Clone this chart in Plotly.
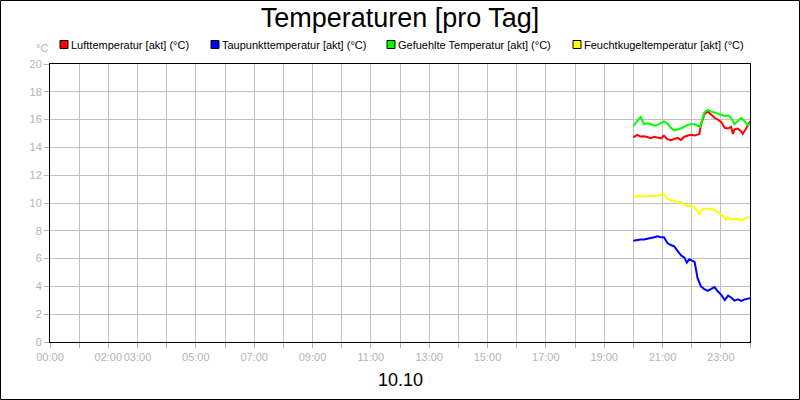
import plotly.graph_objects as go

# Messwerte vom 10.10, 20:00 - 24:00
luft_zeit = ["20:00", "20:08", "20:15", "20:22", "20:29", "20:36", "20:43", "20:50", "20:57", "21:03",
             "21:10", "21:17", "21:24", "21:31", "21:38", "21:45", "21:52", "21:59", "22:06", "22:12",
             "22:16", "22:19", "22:26", "22:33", "22:40", "22:47", "22:54", "23:01", "23:08", "23:15",
             "23:21", "23:25", "23:28", "23:35", "23:42", "23:45", "23:52", "24:00"]
luft_temp = [14.72, 14.90, 14.78, 14.80, 14.75, 14.67, 14.77, 14.72, 14.64, 14.85,
             14.59, 14.51, 14.59, 14.69, 14.54, 14.77, 14.85, 14.90, 14.85, 14.95,
             14.97, 15.62, 16.38, 16.59, 16.38, 16.13, 16.00, 15.82, 15.41, 15.36,
             15.49, 14.97, 15.30, 15.36, 15.15, 14.97, 15.36, 15.87]

tau_zeit = ["20:00", "20:08", "20:15", "20:22", "20:29", "20:36", "20:43", "20:50", "20:57", "21:03",
            "21:10", "21:17", "21:24", "21:31", "21:38", "21:45", "21:50", "21:55", "22:02", "22:06",
            "22:09", "22:12", "22:19", "22:26", "22:33", "22:40", "22:47", "22:54", "23:01", "23:08",
            "23:15", "23:21", "23:28", "23:35", "23:42", "23:49", "24:00"]
tau_temp = [7.29, 7.34, 7.37, 7.37, 7.41, 7.46, 7.54, 7.61, 7.54, 7.54,
            7.12, 6.98, 6.88, 6.56, 6.24, 6.07, 5.71, 5.95, 5.83, 5.76,
            5.22, 4.61, 4.00, 3.80, 3.68, 3.80, 3.95, 3.63, 3.39, 3.02,
            3.34, 3.20, 2.98, 3.07, 2.95, 3.07, 3.15]

gef_zeit = ["20:00", "20:08", "20:15", "20:22", "20:29", "20:36", "20:43", "20:50", "20:57", "21:03",
            "21:10", "21:17", "21:24", "21:31", "21:38", "21:45", "21:52", "21:59", "22:06", "22:12",
            "22:18", "22:26", "22:33", "22:40", "22:47", "22:54", "23:01", "23:08", "23:15", "23:21",
            "23:28", "23:35", "23:42", "23:49", "23:56", "24:00"]
gef_temp = [15.54, 15.87, 16.18, 15.67, 15.74, 15.67, 15.56, 15.62, 15.74, 15.87,
            15.74, 15.41, 15.23, 15.28, 15.36, 15.49, 15.62, 15.67, 15.67, 15.56,
            15.49, 16.51, 16.69, 16.59, 16.51, 16.44, 16.38, 16.26, 16.31, 16.13,
            15.67, 15.87, 16.13, 15.87, 15.56, 15.74]

feucht_zeit = ["20:00", "20:08", "20:15", "20:22", "20:29", "20:36", "20:43", "20:50", "20:57", "21:02",
               "21:07", "21:10", "21:17", "21:24", "21:31", "21:38", "21:45", "21:52", "21:59", "22:06",
               "22:12", "22:16", "22:19", "22:26", "22:33", "22:40", "22:47", "22:54", "23:01", "23:08",
               "23:11", "23:15", "23:21", "23:28", "23:35", "23:42", "23:49", "23:56", "24:00"]
feucht_temp = [10.41, 10.53, 10.48, 10.46, 10.48, 10.53, 10.48, 10.53, 10.55, 10.65,
               10.48, 10.31, 10.19, 10.17, 10.00, 10.07, 9.88, 9.76, 9.83, 9.64,
               9.45, 9.16, 9.45, 9.59, 9.59, 9.59, 9.52, 9.35, 9.16, 8.92,
               8.80, 8.97, 8.80, 8.87, 8.85, 8.75, 8.85, 8.99, 9.04]

serien = [
    ("Lufttemperatur [akt] (°C)", luft_zeit, luft_temp, "#ff0000"),
    ("Taupunkttemperatur [akt] (°C)", tau_zeit, tau_temp, "#0000ff"),
    ("Gefuehlte Temperatur [akt] (°C)", gef_zeit, gef_temp, "#00ff00"),
    ("Feuchtkugeltemperatur [akt] (°C)", feucht_zeit, feucht_temp, "#ffff00"),
]

x_labels = {0: "00:00", 2: "02:00", 3: "03:00", 5: "05:00", 7: "07:00", 9: "09:00", 11: "11:00",
            13: "13:00", 15: "15:00", 17: "17:00", 19: "19:00", 21: "21:00", 23: "23:00"}


def stunden(t):
    h, m = t.split(":")
    return int(h) + int(m) / 60.0


# Pixel -> Paper-Koordinaten (Plotbereich 50..750 x 64..342)
def px(x):
    return (x - 50) / 700.0


def py(y):
    return (342 - y) / 278.0


FONT = "Liberation Sans, Arial, sans-serif"
GRAU = "#b4b4b4"

fig = go.Figure()
for name, zeit, werte, farbe in serien:
    fig.add_trace(go.Scatter(
        x=[stunden(t) for t in zeit], y=werte,
        mode="lines", name=name,
        line=dict(color=farbe, width=2),
        showlegend=False
    ))

# Legende von Hand (Kaestchen + Text)
shapes = []
annotations = []
leg_x = [60, 211, 387, 573]
for (name, _, _, farbe), lx in zip(serien, leg_x):
    shapes.append(dict(type="rect", xref="paper", yref="paper",
                       x0=px(lx), x1=px(lx + 8), y0=py(48.5), y1=py(40.5),
                       fillcolor=farbe, line=dict(color="black", width=1)))
    annotations.append(dict(text=name, xref="paper", yref="paper", x=px(lx + 9), y=py(44.5),
                            xanchor="left", yanchor="middle", showarrow=False,
                            font=dict(size=11, color="black", family=FONT)))

# Rahmen ums ganze Bild
shapes.append(dict(type="rect", xref="paper", yref="paper",
                   x0=px(0.5), x1=px(799.5), y0=py(399.5), y1=py(0.5),
                   line=dict(color="black", width=1)))

annotations.append(dict(text="°C", xref="paper", yref="paper", x=px(42), y=py(48),
                        xanchor="center", yanchor="middle", showarrow=False,
                        font=dict(size=11, color=GRAU, family=FONT)))
annotations.append(dict(text="10.10", xref="paper", yref="paper", x=px(400), y=py(380),
                        xanchor="center", yanchor="middle", showarrow=False,
                        font=dict(size=18, color="black", family=FONT)))

fig.update_layout(
    width=800, height=400,
    margin=dict(l=50, r=50, t=64, b=58, autoexpand=False),
    paper_bgcolor="white", plot_bgcolor="white",
    title=dict(text="Temperaturen [pro Tag]", x=0.5, xanchor="center",
               y=1 - 18 / 400.0, yanchor="middle",
               font=dict(size=27, color="black", family=FONT)),
    font=dict(family=FONT),
    shapes=shapes, annotations=annotations,
    xaxis=dict(range=[0, 24], tickvals=list(range(25)),
               ticktext=[x_labels.get(h, "") for h in range(25)],
               tickangle=0, automargin=False,
               showgrid=True, gridcolor="#c0c0c0", gridwidth=1,
               ticks="outside", ticklen=5, tickcolor=GRAU,
               tickfont=dict(size=11, color=GRAU, family=FONT),
               showline=True, linecolor="black", linewidth=1, mirror=True,
               zeroline=False, fixedrange=True),
    yaxis=dict(range=[0, 20], dtick=2, tick0=0, automargin=False,
               showgrid=True, gridcolor="#c0c0c0", gridwidth=1,
               ticks="outside", ticklen=5, tickcolor=GRAU,
               tickfont=dict(size=11, color=GRAU, family=FONT),
               showline=True, linecolor="black", linewidth=1, mirror=True,
               zeroline=False, fixedrange=True),
)

# Body-Rand weg, damit die Grafik bei 0,0 beginnt
fig.write_html("out.html", config={"displayModeBar": False},
               post_script="document.body.style.margin='0';")
